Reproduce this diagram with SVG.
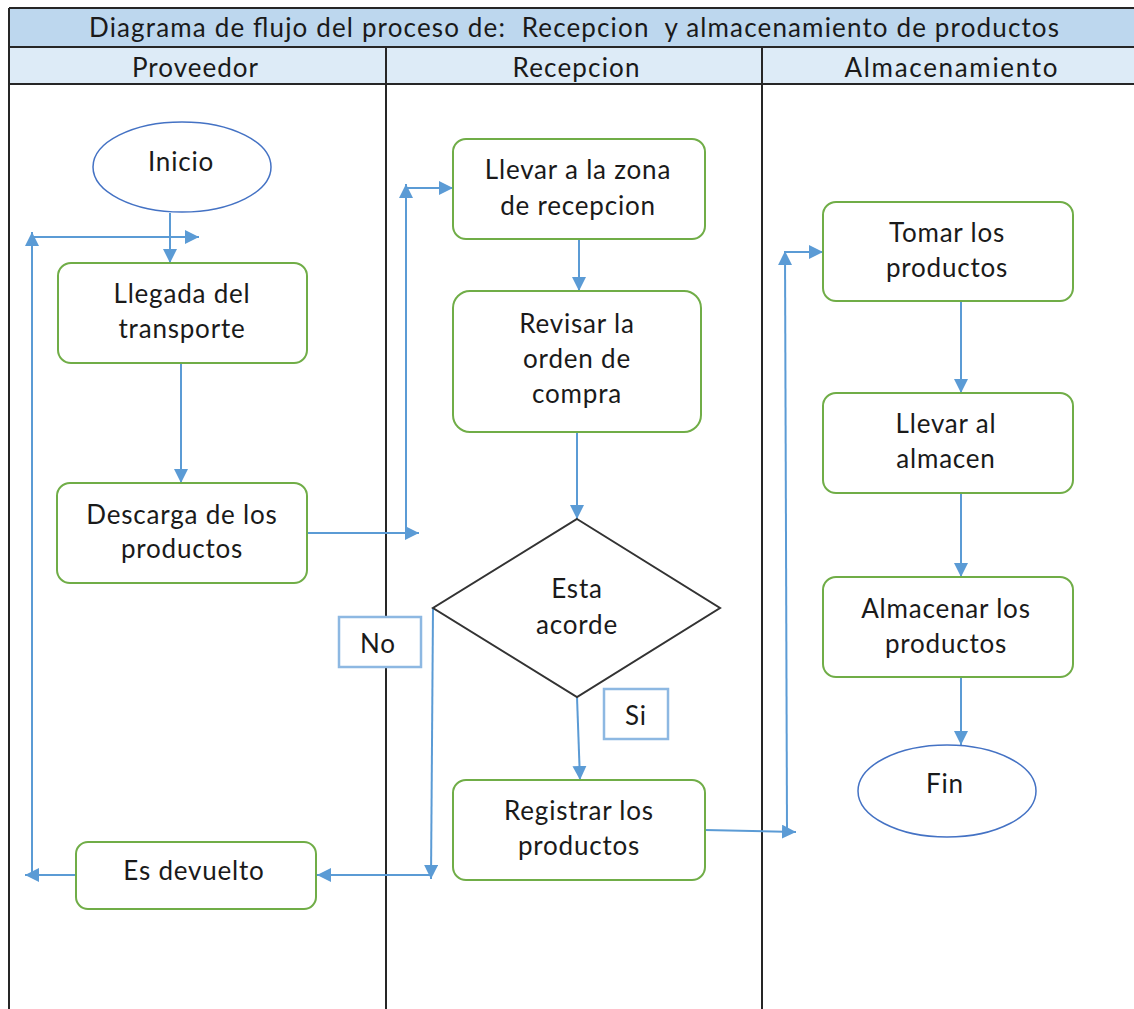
<svg xmlns="http://www.w3.org/2000/svg" width="1134" height="1009" viewBox="0 0 1134 1009">
  <style>
    .t { font-family: Lato, "Liberation Sans", sans-serif; font-size: 26px; letter-spacing: 0.8px; fill: #1a1a1a; text-anchor: middle; }
    .h { font-family: Lato, "Liberation Sans", sans-serif; font-size: 26px; fill: #1a1a1a; text-anchor: middle; }
    .frame { stroke: #262626; stroke-width: 2; fill: none; }
    .proc { fill: #ffffff; stroke: #70ad47; stroke-width: 2; }
    .term { fill: #ffffff; stroke: #4472c4; stroke-width: 1.5; }
    .dec { fill: #ffffff; stroke: #333333; stroke-width: 2; }
    .lbl { fill: #ffffff; stroke: #8db8e2; stroke-width: 2.5; }
    .c { stroke: #5b9bd5; stroke-width: 2; fill: none; marker-end: url(#ah); }
  </style>
  <defs>
    <marker id="ah" viewBox="0 0 10 10" refX="10" refY="5" markerUnits="userSpaceOnUse" markerWidth="14" markerHeight="14" orient="auto">
      <path d="M0,0 L10,5 L0,10 z" fill="#5b9bd5"/>
    </marker>
  </defs>
  <rect width="1134" height="1009" fill="#ffffff"/>

  <!-- swimlane frame -->
  <g id="lanes">
    <rect x="9" y="8" width="1130" height="39" fill="#bdd7ee"/>
    <rect x="9" y="47" width="1130" height="37" fill="#ddebf7"/>
    <path class="frame" d="M9,8 H1134 M9,47 H1134 M9,84 H1134 M9,8 V1009 M386,47 V1009 M762,47 V1009"/>
    <text class="h" x="574" y="37" textLength="970" xml:space="preserve">Diagrama de flujo del proceso de:  Recepcion  y almacenamiento de productos</text>
    <text class="h" x="195" y="77" textLength="126">Proveedor</text>
    <text class="h" x="576" y="77" textLength="127">Recepcion</text>
    <text class="h" x="951" y="77" textLength="213">Almacenamiento</text>
  </g>

  <!-- connectors -->
  <g id="connectors">
    <path class="c" d="M170,213 V263"/>
    <path class="c" d="M76,875 H25"/>
    <path class="c" d="M32,874 V232"/>
    <path class="c" d="M32,237 H199"/>
    <path class="c" d="M181,363 V483"/>
    <path class="c" d="M307,533 H419"/>
    <path class="c" d="M406,533 V184"/>
    <path class="c" d="M406,188 H453"/>
    <path class="c" d="M579,239 V291"/>
    <path class="c" d="M577,432 V519"/>
    <path class="c" d="M577,697 L580,780"/>
    <path class="c" d="M433,608 L431,879"/>
    <path class="c" d="M431,875 H317"/>
    <path class="c" d="M705,830 L796,832"/>
    <path class="c" d="M787,830 L785,251"/>
    <path class="c" d="M785,252 H823"/>
    <path class="c" d="M961,301 V393"/>
    <path class="c" d="M961,493 V577"/>
    <path class="c" d="M961,677 V745"/>
  </g>

  <g id="inicio">
    <ellipse class="term" cx="182" cy="167" rx="89" ry="45"/>
    <text class="t" x="181" y="171">Inicio</text>
  </g>
  <g id="llegada">
    <rect class="proc" x="58" y="263" width="249" height="100" rx="13"/>
    <text class="t" x="182" y="303">Llegada del</text>
    <text class="t" x="182" y="338">transporte</text>
  </g>
  <g id="descarga">
    <rect class="proc" x="57" y="483" width="250" height="100" rx="13"/>
    <text class="t" x="182" y="524">Descarga de los</text>
    <text class="t" x="182" y="558">productos</text>
  </g>
  <g id="devuelto">
    <rect class="proc" x="76" y="842" width="240" height="67" rx="12"/>
    <text class="t" x="194" y="880">Es devuelto</text>
  </g>
  <g id="llevar-zona">
    <rect class="proc" x="453" y="139" width="252" height="100" rx="13"/>
    <text class="t" x="578" y="179">Llevar a la zona</text>
    <text class="t" x="578" y="215">de recepcion</text>
  </g>
  <g id="revisar">
    <rect class="proc" x="453" y="291" width="248" height="141" rx="17"/>
    <text class="t" x="577" y="333">Revisar la</text>
    <text class="t" x="577" y="368">orden de</text>
    <text class="t" x="577" y="403">compra</text>
  </g>
  <g id="acorde">
    <polygon class="dec" points="577,519 720,608 577,697 433,608"/>
    <text class="t" x="577" y="598">Esta</text>
    <text class="t" x="577" y="634">acorde</text>
  </g>
  <g id="lbl-no">
    <rect class="lbl" x="339" y="617" width="82" height="50"/>
    <text class="t" x="378" y="653">No</text>
  </g>
  <g id="lbl-si">
    <rect class="lbl" x="604" y="689" width="64" height="50"/>
    <text class="t" x="636" y="725">Si</text>
  </g>
  <g id="registrar">
    <rect class="proc" x="453" y="780" width="252" height="100" rx="13"/>
    <text class="t" x="579" y="820">Registrar los</text>
    <text class="t" x="579" y="855">productos</text>
  </g>
  <g id="tomar">
    <rect class="proc" x="823" y="202" width="250" height="99" rx="13"/>
    <text class="t" x="947" y="242">Tomar los</text>
    <text class="t" x="947" y="277">productos</text>
  </g>
  <g id="llevar-almacen">
    <rect class="proc" x="823" y="393" width="250" height="100" rx="13"/>
    <text class="t" x="946" y="433">Llevar al</text>
    <text class="t" x="946" y="468">almacen</text>
  </g>
  <g id="almacenar">
    <rect class="proc" x="823" y="577" width="250" height="100" rx="13"/>
    <text class="t" x="946" y="618">Almacenar los</text>
    <text class="t" x="946" y="653">productos</text>
  </g>
  <g id="fin">
    <ellipse class="term" cx="947" cy="791" rx="89" ry="46"/>
    <text class="t" x="945" y="793">Fin</text>
  </g>
</svg>
